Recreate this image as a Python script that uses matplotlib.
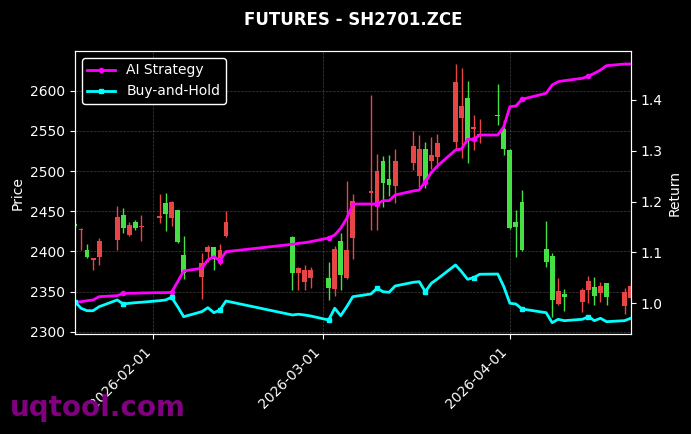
import matplotlib
matplotlib.use("Agg")
import matplotlib.pyplot as plt
import matplotlib.dates as mdates
import numpy as np
import pandas as pd

# trading days (spring festival and qingming gaps)
dates = pd.to_datetime([
    "2026-01-19", "2026-01-20", "2026-01-21", "2026-01-22", "2026-01-23",
    "2026-01-26", "2026-01-27", "2026-01-28", "2026-01-29", "2026-01-30",
    "2026-02-02", "2026-02-03", "2026-02-04", "2026-02-05", "2026-02-06",
    "2026-02-09", "2026-02-10", "2026-02-11", "2026-02-12", "2026-02-13",
    "2026-02-24", "2026-02-25", "2026-02-26", "2026-02-27",
    "2026-03-02", "2026-03-03", "2026-03-04", "2026-03-05", "2026-03-06",
    "2026-03-09", "2026-03-10", "2026-03-11", "2026-03-12", "2026-03-13",
    "2026-03-16", "2026-03-17", "2026-03-18", "2026-03-19", "2026-03-20",
    "2026-03-23", "2026-03-24", "2026-03-25", "2026-03-26", "2026-03-27",
    "2026-03-30", "2026-03-31", "2026-04-01", "2026-04-02", "2026-04-03",
    "2026-04-07", "2026-04-08", "2026-04-09", "2026-04-10",
    "2026-04-13", "2026-04-14", "2026-04-15", "2026-04-16", "2026-04-17",
    "2026-04-20", "2026-04-21",
])

opens = [2434, 2427, 2402, 2389, 2393, 2414, 2445, 2420, 2436, 2430,
         2441, 2460, 2442, 2451, 2396, 2368, 2399, 2405, 2392, 2419,
         2418, 2373, 2362, 2367, 2367, 2353, 2413, 2367, 2417,
         2473, 2455, 2512, 2490, 2481, 2510, 2494, 2527, 2512, 2517,
         2536, 2566, 2591, 2552, 2544, 2570, 2552, 2526, 2437, 2461,
         2403, 2394, 2334, 2347, 2337, 2352, 2356, 2348, 2361, 2332, 2342]
highs = [2436, 2429, 2409, 2392, 2417, 2456, 2454, 2437, 2439, 2445,
         2472, 2473, 2463, 2452, 2419, 2398, 2408, 2406, 2409, 2450,
         2419, 2380, 2383, 2380, 2387, 2407, 2423, 2488, 2471,
         2595, 2521, 2519, 2520, 2527, 2550, 2545, 2536, 2542, 2546,
         2633, 2628, 2612, 2570, 2565, 2608, 2563, 2527, 2451, 2476,
         2438, 2398, 2367, 2353, 2354, 2369, 2368, 2362, 2361, 2354, 2360]
lows = [2429, 2402, 2392, 2377, 2383, 2402, 2423, 2419, 2427, 2413,
        2435, 2425, 2432, 2411, 2366, 2341, 2387, 2377, 2383, 2418,
        2352, 2352, 2352, 2354, 2339, 2344, 2352, 2365, 2390,
        2427, 2427, 2455, 2469, 2460, 2501, 2480, 2479, 2502, 2504,
        2528, 2516, 2510, 2526, 2535, 2557, 2520, 2428, 2393, 2400,
        2380, 2318, 2333, 2326, 2324, 2336, 2333, 2337, 2333, 2322, 2340]
closes = [2431, 2428, 2393, 2392, 2413, 2443, 2429, 2433, 2429, 2431,
          2444, 2447, 2461, 2412, 2373, 2385, 2405, 2390, 2402, 2437,
          2373, 2379, 2377, 2377, 2354, 2403, 2371, 2402, 2463,
          2475, 2500, 2485, 2483, 2512, 2531, 2527, 2486, 2520, 2535,
          2611, 2581, 2537, 2555, 2546, 2568, 2527, 2429, 2430, 2402,
          2387, 2339, 2351, 2343, 2352, 2363, 2344, 2357, 2343, 2349, 2357]

ai_strategy = [1.0020, 1.0031, 1.0051, 1.0065, 1.0130, 1.0150, 1.0197, 1.0197, 1.0197, 1.0203,
               1.0209, 1.0209, 1.0216, 1.0425, 1.0636, 1.0689, 1.0852, 1.0917, 1.0838, 1.1015,
               1.1161, 1.1181, 1.1192, 1.1212, 1.1285, 1.1344, 1.1476, 1.1672, 1.1954,
               1.1954, 1.1954, 1.2019, 1.2019, 1.2131, 1.2210, 1.2229, 1.2393, 1.2574, 1.2701,
               1.3016, 1.3036, 1.3227, 1.3227, 1.3311, 1.3311, 1.3475, 1.3868, 1.3882, 1.4014,
               1.4132, 1.4295, 1.4360, 1.4380, 1.4427, 1.4472, 1.4525, 1.4590, 1.4675, 1.4708, 1.4708]
buy_hold = [1.0031, 0.9902, 0.9854, 0.9854, 0.9933, 1.0065, 0.9986, 1.0000, 1.0012, 1.0020,
            1.0051, 1.0065, 1.0118, 0.9933, 0.9736, 0.9835, 0.9913, 0.9815, 0.9868, 1.0045,
            0.9770, 0.9784, 0.9770, 0.9750, 0.9671, 0.9902, 0.9756, 0.9933, 1.0130,
            1.0183, 1.0295, 1.0228, 1.0216, 1.0340, 1.0413, 1.0425, 1.0228, 1.0394, 1.0478,
            1.0754, 1.0622, 1.0472, 1.0504, 1.0571, 1.0576, 1.0327, 1.0000, 0.9986, 0.9888,
            0.9815, 0.9618, 0.9685, 0.9658, 0.9685, 0.9736, 0.9658, 0.9705, 0.9638, 0.9658, 0.9705]

# figure setup, black background
fig = plt.figure(figsize=(6.91, 4.34), dpi=100, facecolor="black")
ax = fig.add_axes([0.1085, 0.2293, 0.8042, 0.6532])
ax.set_facecolor("black")

o = np.array(opens)
c = np.array(closes)
up = c >= o
colors = np.where(up, "#e84646", "#44e044")

# candles: wicks then bodies
ax.vlines(dates, lows, highs, colors=colors, linewidth=1, zorder=2)
ax.bar(dates, np.abs(c - o), bottom=np.minimum(o, c), width=0.8,
       color=colors, zorder=3)

ax.set_ylim(2296.5, 2649.4)
ax.set_xlim(dates[0], dates[-1])
ax.set_ylabel("Price", color="white")
ax.grid(True, color="gray", linestyle="--", linewidth=0.5, alpha=0.5)
ax.xaxis.set_major_locator(mdates.MonthLocator())
ax.xaxis.set_major_formatter(mdates.DateFormatter("%Y-%m-%d"))
plt.setp(ax.get_xticklabels(), rotation=45, ha="right")

# returns on the right axis
ax2 = ax.twinx()
ax2.plot(dates, ai_strategy, color="#ff00ff", linewidth=2, marker="o",
         markersize=3, markevery=6, label="AI Strategy")
ax2.plot(dates, buy_hold, color="#00ffff", linewidth=2, marker="s",
         markersize=3, markevery=6, label="Buy-and-Hold")
ax2.set_ylim(0.9386, 1.4964)
ax2.set_ylabel("Return", color="white")

for a in (ax, ax2):
    a.tick_params(colors="white")
    for s in a.spines.values():
        s.set_color("white")

leg = ax2.legend(loc="upper left", facecolor="black", edgecolor="white",
                 labelcolor="white", framealpha=1)

ax.set_title("FUTURES - SH2701.ZCE", color="white", fontweight="bold",
             fontsize=12, pad=19)

fig.text(0.0145, 0.0415, "uqtool.com", fontsize=20, fontweight="bold",
         color="#800080", va="baseline", ha="left")

fig.savefig("out.png", facecolor="black")
